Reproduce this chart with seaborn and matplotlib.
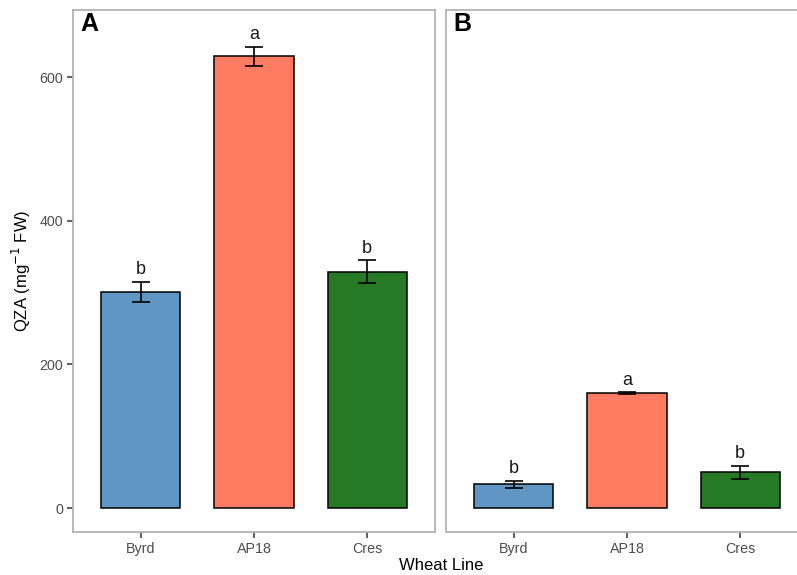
import matplotlib
matplotlib.use("Agg")
import matplotlib.pyplot as plt
import seaborn as sns
import pandas as pd
import numpy as np

lines = ["Byrd", "AP18", "Cres"]
colors = ["#6096C3", "#FF7B61", "#267A25"]
means_A = [301, 629, 329]
se_A = [14, 13, 16]
letters_A = ["b", "a", "b"]
means_B = [33, 160, 50]
se_B = [5, 1.5, 9]
letters_B = ["b", "a", "b"]
yticks = [0, 200, 400, 600]

sns.set_theme(style="white")
plt.rcParams['font.family'] = ['Liberation Sans', 'DejaVu Sans']

fig = plt.figure(figsize=(7.97, 5.75), dpi=100)
bottom = (575 - 532) / 575
height = 522 / 575
w = 362 / 797
axA = fig.add_axes([73 / 797, bottom, w, height])
axB = fig.add_axes([446 / 797, bottom, w, height])

grey = "#B3B3B3"
for ax, means, se, letters, tag in [(axA, means_A, se_A, letters_A, "A"),
                                     (axB, means_B, se_B, letters_B, "B")]:
    df = pd.DataFrame({"line": lines, "mean": means, "se": se})
    sns.barplot(data=df, x="line", y="mean", hue="line", palette=colors,
                order=lines, hue_order=lines, width=0.7, edgecolor="black",
                linewidth=1.1, saturation=1, legend=False, ax=ax, errorbar=None)
    ax.errorbar(np.arange(len(lines)), means, yerr=se, fmt="none",
                ecolor="black", elinewidth=1.2, capsize=6.3, capthick=1.2)
    for i, (m, s, l) in enumerate(zip(means, se, letters)):
        ax.annotate(l, (i, m + s), xytext=(0, 2.5), textcoords="offset points",
                    ha="center", va="bottom", fontsize=13, color="#1A1A1A")
    ax.set_xlim(-0.6, 2.6)
    ax.set_ylim(-33.4, 693.3)
    ax.set_xlabel("")
    for sp in ax.spines.values():
        sp.set_visible(True)
        sp.set_color(grey)
        sp.set_linewidth(1.3)
    ax.tick_params(axis="x", length=4, width=1.1, color="#333333",
                   labelsize=10.3, labelcolor="#4D4D4D", pad=3, bottom=True)
    ax.text(0.02, 0.997, tag, transform=ax.transAxes, ha="left", va="top",
            fontsize=18, fontweight="bold", color="black")

axA.set_yticks(yticks)
axA.set_yticklabels([str(t) for t in yticks])
axA.tick_params(axis="y", length=4, width=1.1, color="#333333",
                labelsize=10.3, labelcolor="#4D4D4D", pad=3, left=True)
axA.set_ylabel("QZA (mg$^{-1}$ FW)", fontsize=12, color="black", labelpad=5)
axB.set_ylabel("")
axB.set_yticks([])

fig.text(441 / 797, 1 - 565 / 575, "Wheat Line", ha="center", va="center",
         fontsize=12, color="black")

fig.savefig("out.png", dpi=100)
